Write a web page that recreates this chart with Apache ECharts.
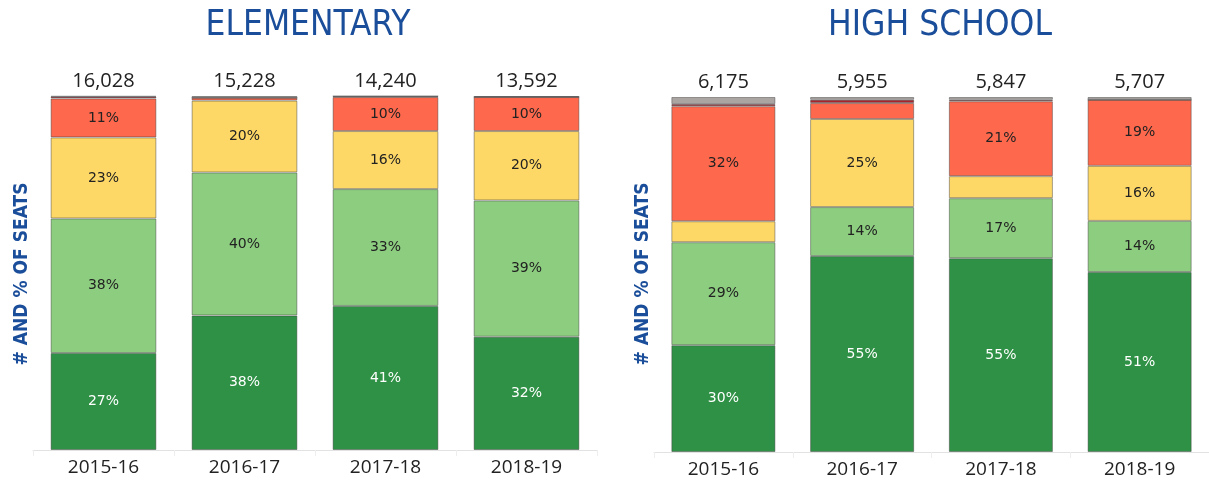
<!DOCTYPE html>
<html><head><meta charset="utf-8">
<script src="https://cdn.jsdelivr.net/npm/echarts@6/dist/echarts.min.js"></script>
<style>html,body{margin:0;padding:0;background:#fff}#c{width:1209px;height:482px}</style>
</head><body><div id="c"></div>
<script>
const categories = ['2015-16','2016-17','2017-18','2018-19'];
// Elementary (% of seats)
const elemDarkGreen  = [27.4, 38.0, 40.7, 32.0];
const elemLightGreen = [38.0, 40.4, 33.0, 38.5];
const elemYellow     = [22.9, 20.3, 16.4, 19.6];
const elemRed        = [11.0, 0.8, 9.6, 9.6];
const elemDarkRed    = [0.5, 0.0, 0.2, 0.0];
const elemGray       = [0.2, 0.5, 0.1, 0.3];
const elemTotals     = ['16,028','15,228','14,240','13,592'];
// High school (% of seats)
const hsDarkGreen  = [30.1, 55.2, 54.6, 50.7];
const hsLightGreen = [29.0, 13.8, 16.9, 14.4];
const hsYellow     = [5.9, 24.8, 6.2, 15.5];
const hsRed        = [32.4, 4.5, 21.1, 18.6];
const hsDarkRed    = [0.6, 0.9, 0.4, 0.0];
const hsGray       = [2.0, 0.8, 0.8, 0.8];
const hsTotals     = ['6,175','5,955','5,847','5,707'];

const colors = {dg:'#2f9145', lg:'#8ccd7f', y:'#fed866', r:'#fe684c', dr:'#a8232a', g:'#aaa4a2'};
const blue = '#1b4e9a';
const labelFont = 'DejaVu Sans';

function seg(name, data, color, idx, textColor){
  return {
    name, type:'bar', stack:'s'+idx, xAxisIndex:idx, yAxisIndex:idx, data,
    barCategoryGap:'25%',
    itemStyle:{color, borderColor:'rgba(60,60,60,0.45)', borderWidth:1},
    label:{show:true, position:'inside', fontFamily:labelFont, fontSize:14,
      color:textColor||'#222',
      formatter:p=> p.value>=8 ? Math.round(p.value)+'%' : ''},
    emphasis:{disabled:true}, animation:false
  };
}
function totalSeries(totals, idx){
  return {
    type:'bar', stack:'s'+idx, xAxisIndex:idx, yAxisIndex:idx, data:[0,0,0,0],
    itemStyle:{color:'transparent', borderWidth:0},
    label:{show:true, position:'top', distance:5, fontFamily:'Open Sans', fontSize:20, color:'#222',
      formatter:p=>totals[p.dataIndex]},
    animation:false
  };
}
function xAx(idx){
  return {type:'category', gridIndex:idx, data:categories,
    axisLine:{lineStyle:{color:'#e2e2e2'}}, axisTick:{show:true, lineStyle:{color:'#eeeeee'}, length:6},
    axisLabel:{fontFamily:'Open Sans', fontSize:19, color:'#222', margin:8}};
}
function yAx(idx){
  return {type:'value', gridIndex:idx, min:0, max:100, show:false};
}
const titleStyle = {fontFamily:'DejaVu Sans Condensed', fontSize:35, fontWeight:'normal', color:blue};
const chart = echarts.init(document.getElementById('c'), null, {renderer:'canvas'});
chart.setOption({
  animation:false,
  title:[
    {text:'ELEMENTARY', left:303, top:3, textAlign:'center', textStyle:titleStyle},
    {text:'HIGH SCHOOL', left:935, top:3, textAlign:'center', textStyle:titleStyle}
  ],
  grid:[
    {left:33, top:96, width:564, height:354},
    {left:654, top:97, width:565, height:355}
  ],
  xAxis:[xAx(0), xAx(1)],
  yAxis:[yAx(0), yAx(1)],
  graphic:[
    {type:'text', x:22, y:274, rotation:Math.PI/2, style:{text:'# AND % OF SEATS', fill:blue,
      font:'bold 19px "DejaVu Sans Condensed"', align:'center', verticalAlign:'middle'}},
    {type:'text', x:643, y:274, rotation:Math.PI/2, style:{text:'# AND % OF SEATS', fill:blue,
      font:'bold 19px "DejaVu Sans Condensed"', align:'center', verticalAlign:'middle'}}
  ],
  series:[
    seg('dg', elemDarkGreen, colors.dg, 0, '#fff'),
    seg('lg', elemLightGreen, colors.lg, 0),
    seg('y', elemYellow, colors.y, 0),
    seg('r', elemRed, colors.r, 0),
    seg('dr', elemDarkRed, colors.dr, 0),
    seg('g', elemGray, colors.g, 0),
    totalSeries(elemTotals, 0),
    seg('dg', hsDarkGreen, colors.dg, 1, '#fff'),
    seg('lg', hsLightGreen, colors.lg, 1),
    seg('y', hsYellow, colors.y, 1),
    seg('r', hsRed, colors.r, 1),
    seg('dr', hsDarkRed, colors.dr, 1),
    seg('g', hsGray, colors.g, 1),
    totalSeries(hsTotals, 1)
  ]
});
</script></body></html>
